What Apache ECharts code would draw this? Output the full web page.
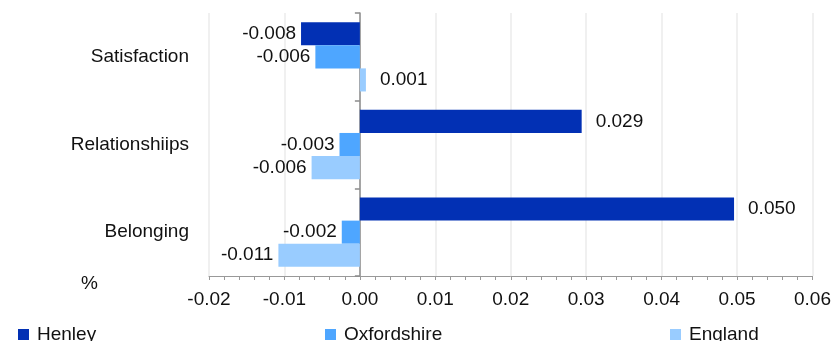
<!DOCTYPE html>
<html>
<head>
<meta charset="utf-8">
<script src="https://cdn.jsdelivr.net/npm/echarts@6/dist/echarts.min.js"></script>
<style>html,body{margin:0;padding:0;background:#fff}#c{width:834px;height:341px}</style>
</head>
<body>
<div id="c"></div>
<script>
var categories = ['Satisfaction', 'Relationshiips', 'Belonging'];
var seriesNames = ['Henley', 'Oxfordshire', 'England'];
var henley = [-0.0078, 0.0294, 0.0496];
var oxfordshire = [-0.0059, -0.0027, -0.0024];
var england = [0.0008, -0.0064, -0.0108];
var xTickMin = -0.02, xTickMax = 0.06, xTickStep = 0.01;
var unitLabel = '%';

var FONT = 'Liberation Sans, Arial, sans-serif';
var FS = 19;
var colors = ['#0230b4', '#4ea6ff', '#99ccff'];
var values = [henley, oxfordshire, england];

function items(arr) {
  return arr.map(function (v) {
    return {
      value: v,
      label: v < 0 ? { position: 'left', distance: 5 } : { position: 'right', distance: 14 }
    };
  });
}

var series = seriesNames.map(function (name, i) {
  return {
    name: name,
    type: 'bar',
    yAxisIndex: 0,
    barGap: '0%',
    barCategoryGap: '21%',
    itemStyle: { color: colors[i] },
    label: {
      show: true,
      fontFamily: FONT,
      fontSize: FS,
      color: '#111',
      formatter: function (p) { return p.value.toFixed(3); }
    },
    data: items(values[i])
  };
});

var legendLefts = [13, 320, 665];
var legends = seriesNames.map(function (name, i) {
  return {
    data: [name],
    left: legendLefts[i],
    top: 320,
    itemWidth: 11,
    itemHeight: 11,
    itemGap: 0,
    icon: 'rect',
    textStyle: { fontFamily: FONT, fontSize: FS, color: '#111', padding: [0, 0, 0, 3] }
  };
});

var chart = echarts.init(document.getElementById('c'), null, { renderer: 'canvas' });
chart.setOption({
  animation: false,
  backgroundColor: '#fff',
  title: {
    text: unitLabel,
    left: 76,
    top: 269,
    textStyle: { fontFamily: FONT, fontSize: FS, fontWeight: 'normal', color: '#111' }
  },
  legend: legends,
  grid: { left: 209, right: 20, top: 13, bottom: 65, containLabel: false },
  xAxis: {
    type: 'value',
    min: xTickMin,
    max: xTickMax,
    interval: xTickStep,
    axisLine: { show: true, lineStyle: { color: '#999', width: 1 } },
    axisTick: { show: true, length: 4, lineStyle: { color: '#999' } },
    minorTick: { show: true, splitNumber: 5, length: 4, lineStyle: { color: '#999' } },
    splitLine: { show: true, lineStyle: { color: '#ebebeb', width: 1.5 } },
    axisLabel: {
      fontFamily: FONT, fontSize: FS, color: '#111', margin: 14,
      formatter: function (v) { return v.toFixed(2); }
    }
  },
  yAxis: [
    {
      type: 'category',
      inverse: true,
      data: categories,
      position: 'left',
      axisLine: { show: false, onZero: false },
      axisTick: { show: false },
      splitLine: { show: false },
      axisLabel: { fontFamily: FONT, fontSize: FS, color: '#111', margin: 20 }
    },
    {
      type: 'category',
      inverse: true,
      data: categories,
      position: 'left',
      axisLine: { show: true, onZero: true, lineStyle: { color: '#8c8c8c', width: 1.5 } },
      axisTick: { show: true, length: 5, lineStyle: { color: '#8c8c8c', width: 1.5 } },
      axisLabel: { show: false },
      splitLine: { show: false }
    }
  ],
  series: series
});
</script>
</body>
</html>
